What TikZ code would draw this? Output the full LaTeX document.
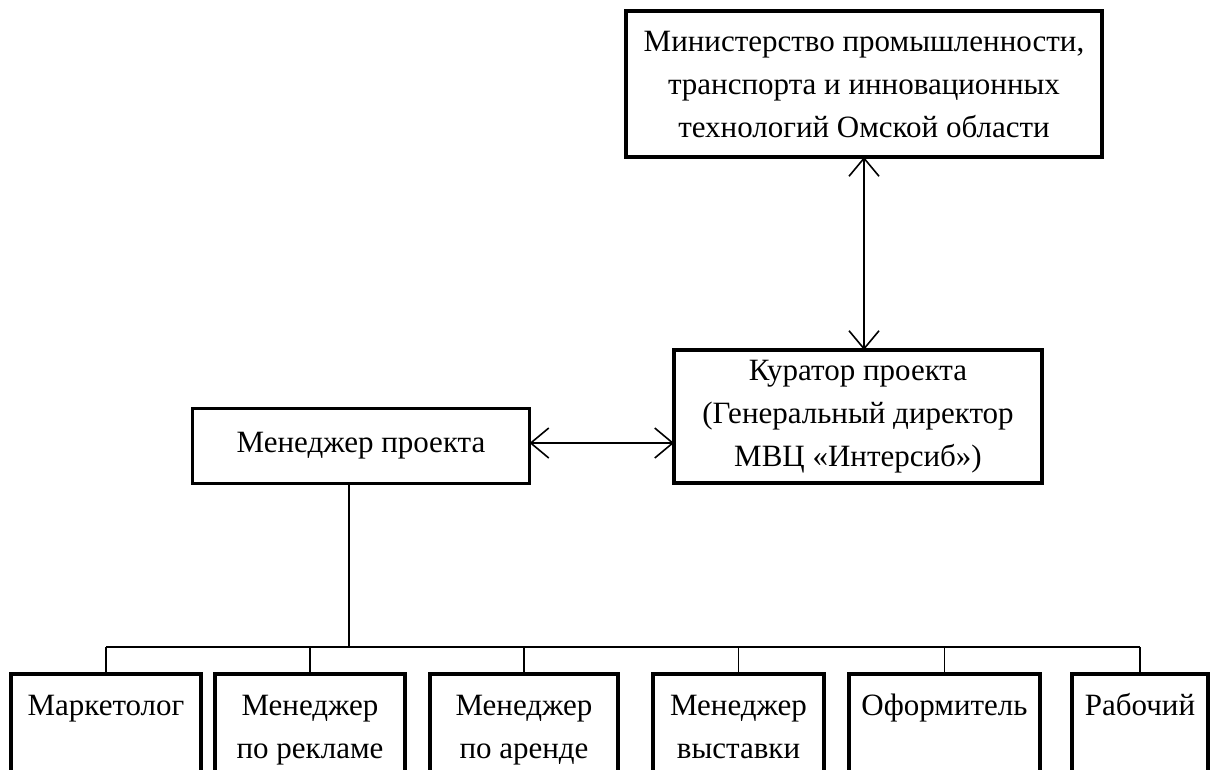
\documentclass[tikz,border=0pt]{standalone}
\usepackage{fontspec}
\setmainfont{Liberation Serif}
\usetikzlibrary{positioning,calc,arrows.meta}
\begin{document}
\begin{tikzpicture}[x=1pt,y=-1pt,
		every node/.style={outer sep=0pt,inner sep=0pt},
		unit/.style={draw,line width=3.5pt,align=center,font=\fontsize{31}{43}\selectfont},
		staff/.style={unit,anchor=north,minimum height=110pt,text height=65pt,text depth=7pt},
		link/.style={line width=1.6pt},
		both/.style={link,{Straight Barb[length=18pt,width=30pt]}-{Straight Barb[length=18pt,width=30pt]}}
		]
		\clip (0,0) rectangle (1211,769);
		
		\node[unit,minimum width=476pt,minimum height=146pt] (min) at (864,84) {Министерство промышленности,\\транспорта и инновационных\\технологий Омской области};
		\node[unit,minimum width=368pt,minimum height=133pt] (cur) at (858,416.5) {Куратор проекта\\(Генеральный директор\\МВЦ «Интерсиб»)};
		\node[unit,minimum width=337pt,minimum height=75pt] (mgr) at (361,446) {Менеджер проекта};
		
		\foreach \n/\x/\w/\t in {b1/106/190/{Маркетолог\\\mbox{}},
			b2/310/190/{Менеджер\\по рекламе},
			b3/524/188/{Менеджер\\по аренде},
			b4/738.5/171/{Менеджер\\выставки},
			b5/944.5/191/{Оформитель\\\mbox{}},
			b6/1140/136/{Рабочий\\\mbox{}}}
		\node[staff,minimum width=\w pt] (\n) at (\x,674) {\t};
		
		\coordinate (bus) at (349,647);
		\draw[both] (min.south) -- (min.south |- cur.north);
		\draw[both] ([yshift=3pt]mgr.east) -- ([yshift=3pt]mgr.east -| cur.west);
		\draw[link] (mgr.south -| bus) -- (bus);
		\draw[link] (b1.north |- bus) -- (b6.north |- bus);
		\foreach \n in {b1,b2,b3,b4,b5,b6}
		\draw[link] (\n.north |- bus) -- (\n.north);
	\end{tikzpicture}
\end{document}
